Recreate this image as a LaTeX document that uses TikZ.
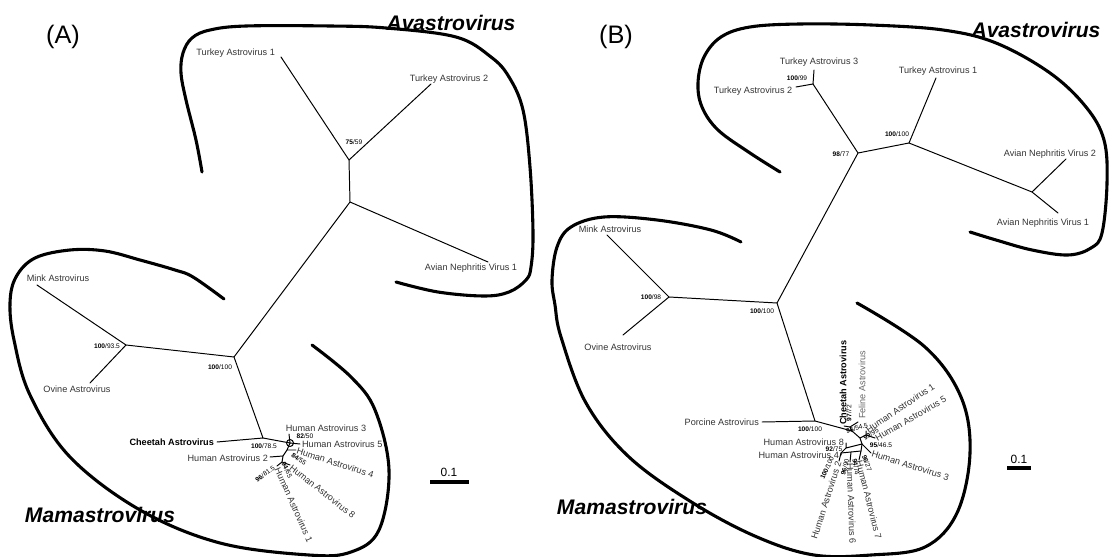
\documentclass[tikz,border=0pt]{standalone}
\usepackage{fontspec}
\setmainfont{Liberation Sans}
\newcommand{\bootv}[2]{\textbf{#1}/#2}
\begin{document}
\begin{tikzpicture}[x=0.025cm, y=-0.025cm, line cap=round, line join=round,
  branch/.style={line width=0.7pt},
  contour/.style={line width=2.2pt},
  leaf/.style={font=\fontsize{6.5}{7}\selectfont, text=black!80, inner sep=0.6pt},
  bold leaf/.style={leaf, font=\fontsize{6.5}{7}\selectfont\bfseries, text=black},
  boot/.style={font=\fontsize{4.7}{5}\selectfont, inner sep=0pt},
  genus/.style={font=\fontsize{15}{17}\selectfont\bfseries\itshape},
  panel/.style={font=\fontsize{18}{20}\selectfont},
  scalebar/.style={line width=2.2pt, line cap=butt}]
  \useasboundingbox (0,0) rectangle (1110,557);

  % ----- (A) -----
  \node[panel] (pA) at (63,37) {(A)};
  \node[genus] (avA) at (451,23) {Avastrovirus};
  \node[genus] (maA) at (100,515) {Mamastrovirus};
  % los contornos
  \draw[contour] plot[smooth, tension=0.6] coordinates {(202,172) (196,140) (186,100) (181,73) (183,53) (192,38) (210,30) (246,26) (330,26) (386,28) (456,37) (491,57) (509,77) (523,110) (530,167) (533,233) (531,267) (526,280) (509,292) (484,296) (438,292) (396,282)};
  \draw[contour] plot[smooth, tension=0.6] coordinates {(224,299) (193,277) (175,270) (140,260) (105,251) (70,250) (35,258) (16,277) (10,303) (14,340) (30,395) (70,457) (140,510) (220,543) (309,555) (351,552) (379,530) (389,470) (375,410) (351,377) (312,345)};
  % los nodos internos
  \coordinate (a75) at (349,160);
  \coordinate (aav) at (350,202);
  \coordinate (aroot) at (234,357);
  \coordinate (amo) at (126,345);
  \coordinate (ach) at (263,438);
  \coordinate (ahc) at (290,443);
  \coordinate (an1) at (287,450);
  \coordinate (an2) at (283,456);
  \coordinate (an3) at (282,462);
  % las hojas
  \node[leaf, anchor=east] (tur1A) at (276,53) {Turkey Astrovirus 1};
  \coordinate (tur1At) at (281,57);
  \node[leaf] (tur2A) at (449,79) {Turkey Astrovirus 2};
  \coordinate (tur2At) at (431,84);
  \node[leaf] (anv1A) at (471,268) {Avian Nephritis Virus 1};
  \coordinate (anv1At) at (488,262);
  \node[leaf] (minkA) at (58,278) {Mink Astrovirus};
  \coordinate (minkAt) at (37,285);
  \node[leaf] (ovA) at (77,389) {Ovine Astrovirus};
  \coordinate (ovAt) at (90,383);
  \node[bold leaf, anchor=east] (cheA) at (215,442) {Cheetah Astrovirus};
  \coordinate (cheAt) at (217,442);
  \node[leaf] (h3A) at (326,428) {Human Astrovirus 3};
  \coordinate (h3At) at (289,434);
  \node[leaf, anchor=west] (h5A) at (301,444) {Human Astrovirus 5};
  \coordinate (h5At) at (300,444);
  \node[leaf, anchor=east] (h2A) at (269,458) {Human Astrovirus 2};
  \coordinate (h2At) at (270,457);
  \node[leaf, anchor=west, rotate=-18] (h4A) at (296,450) {Human Astrovirus 4};
  \coordinate (h4At) at (296,450);
  \node[leaf, anchor=west, rotate=-38] (h8A) at (290,466) {Human Astrovirus 8};
  \coordinate (h8At) at (290,465);
  \node[leaf, anchor=west, rotate=-66] (h1A) at (277,467) {Human Astrovirus 1};
  \coordinate (h1At) at (277,466);
  % las ramas
  \draw[branch] (tur1At) -- (a75) -- (tur2At);
  \draw[branch] (a75) -- (aav) -- (anv1At);
  \draw[branch] (aav) -- (aroot) -- (amo);
  \draw[branch] (minkAt) -- (amo) -- (ovAt);
  \draw[branch] (aroot) -- (ach) -- (cheAt);
  \draw[branch] (ach) -- (ahc);
  \draw[branch] (ahc) circle (3.5);
  \draw[branch] (ahc) -- (h3At);
  \draw[branch] (ahc) -- (h5At);
  \draw[branch] (ahc) -- (an1) -- (h4At);
  \draw[branch] (an1) -- (an2) -- (h2At);
  \draw[branch] (an2) -- (an3) -- (h8At);
  \draw[branch] (an3) -- (h1At);
  % los valores
  \node[boot] (b1A) at (354,142) {\bootv{75}{59}};
  \node[boot] (b2A) at (220,367) {\bootv{100}{100}};
  \node[boot] (b3A) at (107,346) {\bootv{100}{93.5}};
  \node[boot] (b4A) at (264,446) {\bootv{100}{78.5}};
  \node[boot] (b5A) at (305,436) {\bootv{82}{50}};
  \node[boot, rotate=-35] (b6A) at (299,459) {\bootv{84}{55}};
  \node[boot, rotate=-65] (b7A) at (287,470) {\bootv{94}{65}};
  \node[boot, rotate=35] (b8A) at (265,474) {\bootv{96}{81.5}};
  % la escala
  \coordinate (sA1) at (430,482);
  \coordinate (sA2) at (469,482);
  \draw[scalebar] (sA1) -- (sA2);
  \node[font=\fontsize{8.5}{9}\selectfont] (sAl) at (449,472) {0.1};

  % ----- (B) -----
  \node[panel] (pB) at (616,37) {(B)};
  \node[genus] (avB) at (1036,30) {Avastrovirus};
  \node[genus] (maB) at (632,507) {Mamastrovirus};
  % los contornos
  \draw[contour] plot[smooth, tension=0.6] coordinates {(780,172) (750,153) (718,130) (702,107) (698,83) (704,57) (721,37) (750,27) (800,24) (871,25) (943,30) (996,43) (1050,73) (1086,107) (1104,140) (1107,183) (1102,233) (1091,248) (1068,255) (1032,250) (996,240) (970,232)};
  \draw[contour] plot[smooth, tension=0.6] coordinates {(741,242) (711,230) (657,220) (604,217) (571,227) (557,247) (552,280) (555,305) (561,337) (586,403) (629,457) (693,503) (757,537) (814,555) (871,555) (925,547) (957,513) (970,453) (961,397) (925,347) (857,303)};
  % los nodos internos
  \coordinate (b23) at (813,84);
  \coordinate (b98) at (858,153);
  \coordinate (bup) at (909,143);
  \coordinate (banv) at (1032,192);
  \coordinate (broot) at (777,303);
  \coordinate (bmo) at (669,297);
  \coordinate (bpo) at (815,421);
  \coordinate (bhA) at (852,431);
  \coordinate (bcf) at (850,427);
  \coordinate (bhB) at (860,438);
  \coordinate (b15) at (866,435);
  \coordinate (bhC) at (862,444);
  \coordinate (bhD) at (861,451);
  \coordinate (bhE) at (846,448);
  \coordinate (bhF) at (841,453);
  % las hojas
  \node[leaf] (tur3B) at (819,62) {Turkey Astrovirus 3};
  \coordinate (tur3Bt) at (814,70);
  \node[leaf] (tur2B) at (753,91) {Turkey Astrovirus 2};
  \coordinate (tur2Bt) at (796,87);
  \node[leaf] (tur1B) at (938,71) {Turkey Astrovirus 1};
  \coordinate (tur1Bt) at (936,78);
  \node[leaf] (anv2B) at (1050,154) {Avian Nephritis Virus 2};
  \coordinate (anv2Bt) at (1066,159);
  \node[leaf] (anv1B) at (1043,223) {Avian Nephritis Virus 1};
  \coordinate (anv1Bt) at (1058,213);
  \node[leaf] (minkB) at (610,229) {Mink Astrovirus};
  \coordinate (minkBt) at (607,235);
  \node[leaf] (ovB) at (618,347) {Ovine Astrovirus};
  \coordinate (ovBt) at (623,335);
  \node[leaf, anchor=east] (poB) at (760,422) {Porcine Astrovirus};
  \coordinate (poBt) at (762,422);
  \node[bold leaf, anchor=west, rotate=90] (cheB) at (843,426) {Cheetah Astrovirus};
  \coordinate (cheBt) at (844,426);
  \node[leaf, anchor=west, rotate=90, text=black!60] (felB) at (862,420) {Feline Astrovirus};
  \coordinate (felBt) at (858,422);
  \node[leaf, anchor=west, rotate=34] (h1B) at (866,431) {Human Astrovirus 1};
  \coordinate (h1Bt) at (866,431);
  \node[leaf, anchor=west, rotate=30] (h5B) at (875,439) {Human Astrovirus 5};
  \coordinate (h5Bt) at (875,438);
  \node[leaf, anchor=west, rotate=-17.5] (h3B) at (871,453) {Human Astrovirus 3};
  \coordinate (h3Bt) at (871,453);
  \node[leaf, anchor=west, rotate=-76] (h7B) at (859,460) {Human Astrovirus 7};
  \coordinate (h7Bt) at (859,460);
  \node[leaf, anchor=west, rotate=-88] (h6B) at (850,462) {Human Astrovirus 6};
  \coordinate (h6Bt) at (850,462);
  \node[leaf, anchor=east, rotate=72] (h2B) at (839,461) {Human Astrovirus 2};
  \coordinate (h2Bt) at (839,461);
  \node[leaf, anchor=east] (h8B) at (845,442) {Human Astrovirus 8};
  \coordinate (h8Bt) at (846,443);
  \node[leaf, anchor=east] (h4B) at (840,455) {Human Astrovirus 4};
  \coordinate (h4Bt) at (841,455);
  % las ramas
  \draw[branch] (tur3Bt) -- (b23) -- (tur2Bt);
  \draw[branch] (b23) -- (b98) -- (bup) -- (tur1Bt);
  \draw[branch] (bup) -- (banv) -- (anv2Bt);
  \draw[branch] (banv) -- (anv1Bt);
  \draw[branch] (b98) -- (broot) -- (bmo);
  \draw[branch] (minkBt) -- (bmo) -- (ovBt);
  \draw[branch] (broot) -- (bpo) -- (poBt);
  \draw[branch] (bpo) -- (bhA) -- (bcf) -- (cheBt);
  \draw[branch] (bcf) -- (felBt);
  \draw[branch] (bhA) -- (bhB) -- (b15) -- (h1Bt);
  \draw[branch] (b15) -- (h5Bt);
  \draw[branch] (bhB) -- (bhC) -- (h3Bt);
  \draw[branch] (bhC) -- (bhD) -- (h7Bt);
  \draw[branch] (bhC) -- (bhE) -- (h8Bt);
  \draw[branch] (bhE) -- (bhF) -- (h4Bt);
  \draw[branch] (bhF) -- (h2Bt);
  \draw[branch] (bhD) -- (bhF);
  \draw[branch] (851,452) -- (h6Bt);
  % los valores
  \node[boot] (b1B) at (797,78) {\bootv{100}{99}};
  \node[boot] (b2B) at (841,154) {\bootv{98}{77}};
  \node[boot] (b3B) at (897,134) {\bootv{100}{100}};
  \node[boot] (b4B) at (762,311) {\bootv{100}{100}};
  \node[boot] (b5B) at (651,297) {\bootv{100}{98}};
  \node[boot] (b6B) at (810,429) {\bootv{100}{100}};
  \node[boot, rotate=90] (b7B) at (849,413) {\bootv{97}{72}};
  \node[boot, rotate=15] (b8B) at (857,428) {\bootv{95}{54.5}};
  \node[boot, rotate=30] (b9B) at (871,434) {\bootv{99}{95}};
  \node[boot] (b10B) at (881,445) {\bootv{95}{46.5}};
  \node[boot, rotate=-70] (b11B) at (867,463) {\bootv{96}{27}};
  \node[boot, rotate=-80] (b12B) at (856,467) {\bootv{94}{74}};
  \node[boot, rotate=75] (b13B) at (845,467) {\bootv{96}{90}};
  \node[boot, rotate=65] (b14B) at (827,468) {\bootv{100}{100}};
  \node[boot] (b15B) at (834,449) {\bootv{92}{75}};
  % la escala
  \coordinate (sB1) at (1007,468);
  \coordinate (sB2) at (1031,468);
  \draw[scalebar] (sB1) -- (sB2);
  \node[font=\fontsize{8.5}{9}\selectfont] (sBl) at (1019,459) {0.1};
\end{tikzpicture}
\end{document}
